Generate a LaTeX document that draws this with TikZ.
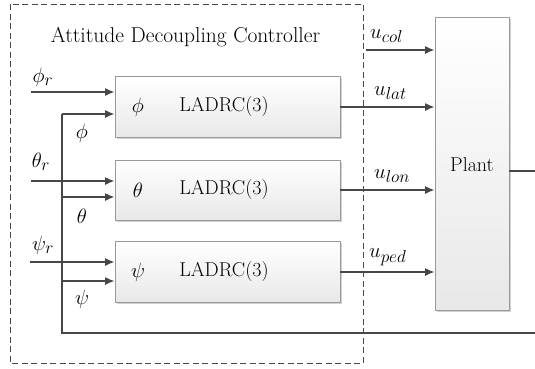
\documentclass[tikz,border=0pt]{standalone}
\usetikzlibrary{arrows.meta,shadows}
% larger sub/superscripts for the signal labels
\DeclareMathSizes{22}{22}{17}{13}
\begin{document}
\begin{tikzpicture}[x=1pt,y=-1pt,
  font=\fontsize{20}{24}\selectfont,
  big/.style={font=\fontsize{21.5}{26}\selectfont},
  mlbl/.style={inner sep=0pt, font=\fontsize{22}{26}\selectfont},
  blk/.style={draw=black!40, line width=0.8pt, top color=white, bottom color=black!9,
    drop shadow={shadow xshift=1.5pt, shadow yshift=-1.5pt, fill=black!30, opacity=0.6},
    inner sep=0pt},
  wire/.style={draw=black!72, line width=1.5pt},
  arr/.style={wire, -{Latex[length=9.5pt,width=8pt]}},
  lbl/.style={inner sep=0pt}]
\useasboundingbox (0,0) rectangle (535,368);

% controller frame
\draw[black!72, line width=1pt, dash pattern=on 6pt off 3.5pt] (10,4) rectangle (363,363);
\node[lbl, big] (title) at (185.5,37) {Attitude Decoupling Controller};

% LADRC blocks and plant
\node[blk, minimum width=225pt, minimum height=61pt] (b1) at (227.5,107) {};
\node[blk, minimum width=225pt, minimum height=60pt] (b2) at (227.5,190) {};
\node[blk, minimum width=225pt, minimum height=61pt] (b3) at (227.5,272) {};
\node[blk, minimum width=74pt, minimum height=293pt] (plant) at (472,163.5) {};

\node[mlbl] (s1) at (138,107) {$\phi$};
\node[mlbl] (s2) at (138,190) {$\theta$};
\node[mlbl] (s3) at (138,272) {$\psi$};
\node[lbl] (c1) at (224,107) {LADRC(3)};
\node[lbl] (c2) at (224,190) {LADRC(3)};
\node[lbl] (c3) at (224,272) {LADRC(3)};
\node[lbl] (pl) at (472,165) {Plant};

% reference inputs
\coordinate (r1) at (31,92);
\coordinate (r2) at (31,181);
\coordinate (r3) at (30,262);
\draw[arr] (r1) -- (r1 -| b1.west);
\draw[arr] (r2) -- (r2 -| b2.west);
\draw[arr] (r3) -- (r3 -| b3.west);
\node[mlbl] (lr1) at (43,77) {$\phi_r$};
\node[mlbl] (lr2) at (41,162) {$\theta_r$};
\node[mlbl] (lr3) at (43,245) {$\psi_r$};

% feedback path
\coordinate (pout) at (535,171);
\coordinate (fbR) at (535,333);
\coordinate (fbL) at (62,333);
\coordinate (j1) at (62,114);
\coordinate (j2) at (62,197);
\coordinate (j3) at (62,281);
\draw[wire] (plant.east |- pout) -- (pout);
\draw[wire] (fbR) -- (fbL) -- (j1);
\draw[arr] (j1) -- (j1 -| b1.west);
\draw[arr] (j2) -- (j2 -| b2.west);
\draw[arr] (j3) -- (j3 -| b3.west);
\node[mlbl] (f1) at (82,133) {$\phi$};
\node[mlbl] (f2) at (82,216) {$\theta$};
\node[mlbl] (f3) at (82,299) {$\psi$};

% control outputs
\coordinate (uc) at (366,50);
\draw[arr] (uc) -- (uc -| plant.west);
\draw[arr] (b1.east) -- (b1.east -| plant.west);
\draw[arr] (b2.east) -- (b2.east -| plant.west);
\draw[arr] (b3.east) -- (b3.east -| plant.west);
\node[mlbl, anchor=west] (u1) at (370,36) {$u_{col}$};
\node[mlbl, anchor=west] (u2) at (374,93) {$u_{lat}$};
\node[mlbl, anchor=west] (u3) at (374,176) {$u_{lon}$};
\node[mlbl, anchor=west] (u4) at (369,257) {$u_{ped}$};
\end{tikzpicture}
\end{document}
